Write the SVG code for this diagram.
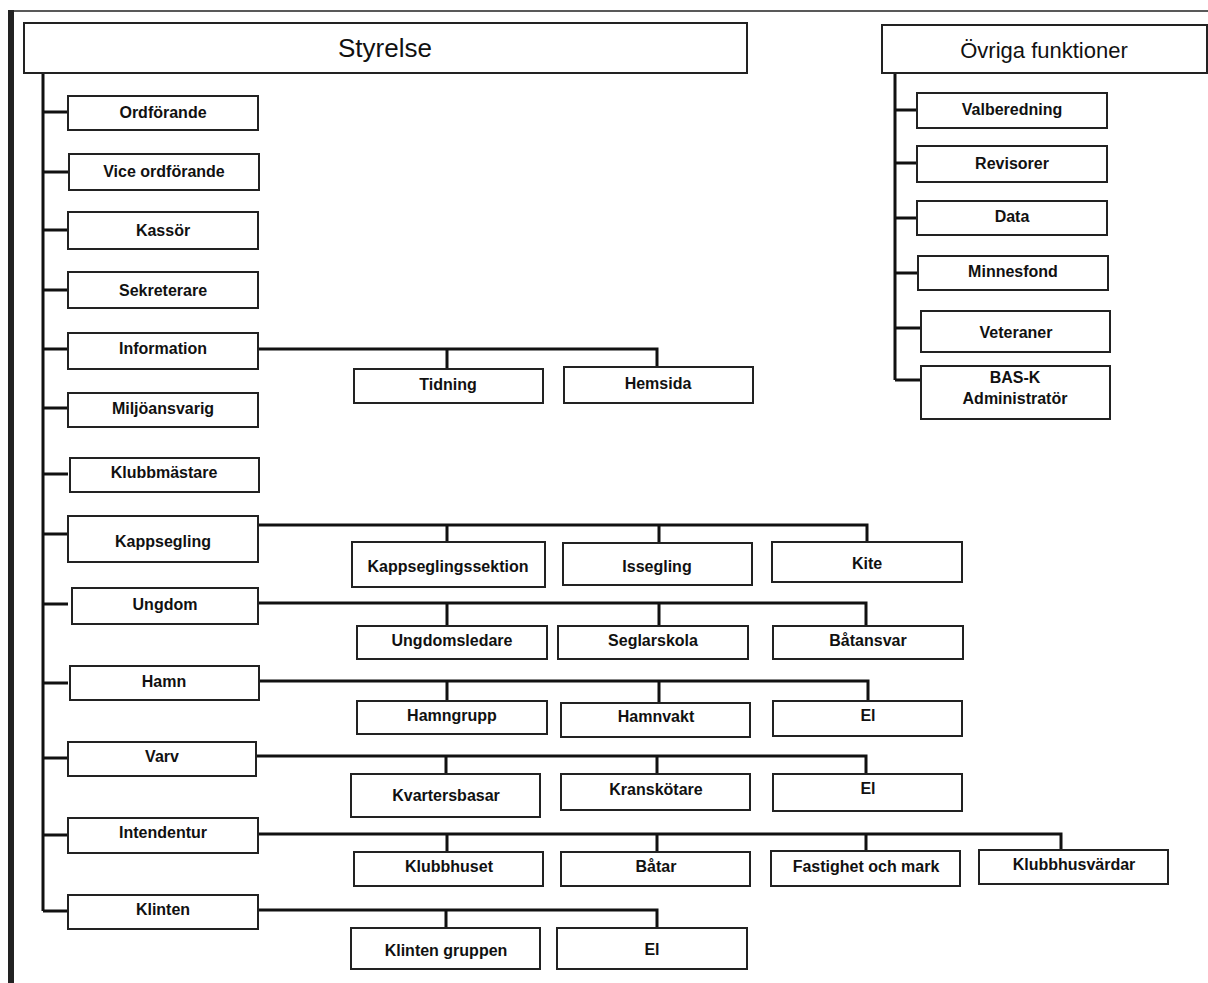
<svg xmlns="http://www.w3.org/2000/svg" width="1208" height="983" viewBox="0 0 1208 983">
<style>
.b{fill:#fff;stroke:#222;stroke-width:2}
.t{font-family:"Liberation Sans",Arial,sans-serif;font-weight:bold;font-size:16px;fill:#111;text-anchor:middle}
.h{font-family:"Liberation Sans",Arial,sans-serif;fill:#111;text-anchor:middle}
.c{fill:none;stroke:#111;stroke-width:3}
</style>
<rect width="1208" height="983" fill="#fff"/>
<line x1="11" y1="10" x2="11" y2="983" stroke="#222" stroke-width="6"/>
<line x1="14" y1="11" x2="1208" y2="11" stroke="#222" stroke-width="1.5"/>
<g id="connectors" class="c">
<path d="M43 73V911M43 112H68M43 172H68M43 230H68M43 290H68M43 349H68M43 408H68M43 474H68M43 534H68M43 604H68M43 683H68M43 758H68M43 835H68M43 911H68"/>
<path d="M895 73V380M895 110H917M895 163H917M895 218H917M895 273H917M895 328H921M895 380H921"/>
<path d="M258 349H657V367M447 349V369"/>
<path d="M258 525H867V542M447 525V542M659 525V543"/>
<path d="M258 603H866V626M447 603V626M659 603V626"/>
<path d="M259 681H868V701M447 681V701M659 681V703"/>
<path d="M256 756H866V774M446 756V774M657 756V774"/>
<path d="M258 834H1061V851M447 834V852M657 834V852M866 834V851"/>
<path d="M258 910H657V928M446 910V928"/>
</g>
<g id="styrelse"><rect class="b" x="24" y="23" width="723" height="50"/><text class="h" x="385" y="57" font-size="26">Styrelse</text></g>
<g id="ovriga"><rect class="b" x="882" y="25" width="325" height="48"/><text class="h" x="1044" y="58" font-size="22">Övriga funktioner</text></g>
<g id="ordforande"><rect class="b" x="68" y="96" width="190" height="34"/><text class="t" x="163" y="118">Ordförande</text></g>
<g id="vice"><rect class="b" x="69" y="154" width="190" height="36"/><text class="t" x="164" y="177">Vice ordförande</text></g>
<g id="kassor"><rect class="b" x="68" y="212" width="190" height="37"/><text class="t" x="163" y="236">Kassör</text></g>
<g id="sekreterare"><rect class="b" x="68" y="272" width="190" height="36"/><text class="t" x="163" y="296">Sekreterare</text></g>
<g id="information"><rect class="b" x="68" y="333" width="190" height="36"/><text class="t" x="163" y="354">Information</text></g>
<g id="miljo"><rect class="b" x="68" y="393" width="190" height="34"/><text class="t" x="163" y="414">Miljöansvarig</text></g>
<g id="klubbmastare"><rect class="b" x="70" y="458" width="189" height="34"/><text class="t" x="164" y="478">Klubbmästare</text></g>
<g id="kappsegling"><rect class="b" x="68" y="516" width="190" height="46"/><text class="t" x="163" y="547">Kappsegling</text></g>
<g id="ungdom"><rect class="b" x="72" y="588" width="186" height="36"/><text class="t" x="165" y="610">Ungdom</text></g>
<g id="hamn"><rect class="b" x="70" y="666" width="189" height="34"/><text class="t" x="164" y="687">Hamn</text></g>
<g id="varv"><rect class="b" x="68" y="742" width="188" height="34"/><text class="t" x="162" y="762">Varv</text></g>
<g id="intendentur"><rect class="b" x="68" y="818" width="190" height="35"/><text class="t" x="163" y="838">Intendentur</text></g>
<g id="klinten"><rect class="b" x="68" y="895" width="190" height="34"/><text class="t" x="163" y="915">Klinten</text></g>
<g id="tidning"><rect class="b" x="354" y="369" width="189" height="34"/><text class="t" x="448" y="390">Tidning</text></g>
<g id="hemsida"><rect class="b" x="564" y="367" width="189" height="36"/><text class="t" x="658" y="389">Hemsida</text></g>
<g id="kappsektion"><rect class="b" x="352" y="542" width="193" height="45"/><text class="t" x="448" y="572">Kappseglingssektion</text></g>
<g id="issegling"><rect class="b" x="563" y="543" width="189" height="42"/><text class="t" x="657" y="572">Issegling</text></g>
<g id="kite"><rect class="b" x="772" y="542" width="190" height="40"/><text class="t" x="867" y="569">Kite</text></g>
<g id="ungdomsledare"><rect class="b" x="357" y="626" width="190" height="33"/><text class="t" x="452" y="646">Ungdomsledare</text></g>
<g id="seglarskola"><rect class="b" x="558" y="626" width="190" height="33"/><text class="t" x="653" y="646">Seglarskola</text></g>
<g id="batansvar"><rect class="b" x="773" y="626" width="190" height="33"/><text class="t" x="868" y="646">Båtansvar</text></g>
<g id="hamngrupp"><rect class="b" x="357" y="701" width="190" height="33"/><text class="t" x="452" y="721">Hamngrupp</text></g>
<g id="hamnvakt"><rect class="b" x="561" y="703" width="189" height="34"/><text class="t" x="656" y="722">Hamnvakt</text></g>
<g id="el-hamn"><rect class="b" x="773" y="701" width="189" height="35"/><text class="t" x="868" y="721">El</text></g>
<g id="kvartersbasar"><rect class="b" x="351" y="774" width="189" height="43"/><text class="t" x="446" y="801">Kvartersbasar</text></g>
<g id="kranskotare"><rect class="b" x="561" y="774" width="189" height="36"/><text class="t" x="656" y="795">Kranskötare</text></g>
<g id="el-varv"><rect class="b" x="773" y="774" width="189" height="37"/><text class="t" x="868" y="794">El</text></g>
<g id="klubbhuset"><rect class="b" x="354" y="852" width="189" height="34"/><text class="t" x="449" y="872">Klubbhuset</text></g>
<g id="batar"><rect class="b" x="561" y="852" width="189" height="34"/><text class="t" x="656" y="872">Båtar</text></g>
<g id="fastighet"><rect class="b" x="771" y="851" width="189" height="35"/><text class="t" x="866" y="872">Fastighet och mark</text></g>
<g id="klubbhusvardar"><rect class="b" x="979" y="850" width="189" height="34"/><text class="t" x="1074" y="870">Klubbhusvärdar</text></g>
<g id="klintengruppen"><rect class="b" x="351" y="928" width="189" height="41"/><text class="t" x="446" y="956">Klinten gruppen</text></g>
<g id="el-klinten"><rect class="b" x="557" y="928" width="190" height="41"/><text class="t" x="652" y="955">El</text></g>
<g id="valberedning"><rect class="b" x="917" y="93" width="190" height="35"/><text class="t" x="1012" y="115">Valberedning</text></g>
<g id="revisorer"><rect class="b" x="917" y="146" width="190" height="36"/><text class="t" x="1012" y="169">Revisorer</text></g>
<g id="data"><rect class="b" x="917" y="201" width="190" height="34"/><text class="t" x="1012" y="222">Data</text></g>
<g id="minnesfond"><rect class="b" x="918" y="256" width="190" height="34"/><text class="t" x="1013" y="277">Minnesfond</text></g>
<g id="veteraner"><rect class="b" x="921" y="311" width="189" height="41"/><text class="t" x="1016" y="338">Veteraner</text></g>
<g id="basadmin"><rect class="b" x="921" y="366" width="189" height="53"/><text class="t" x="1015" y="383">BAS-K</text><text class="t" x="1015" y="404">Administratör</text></g>
</svg>
